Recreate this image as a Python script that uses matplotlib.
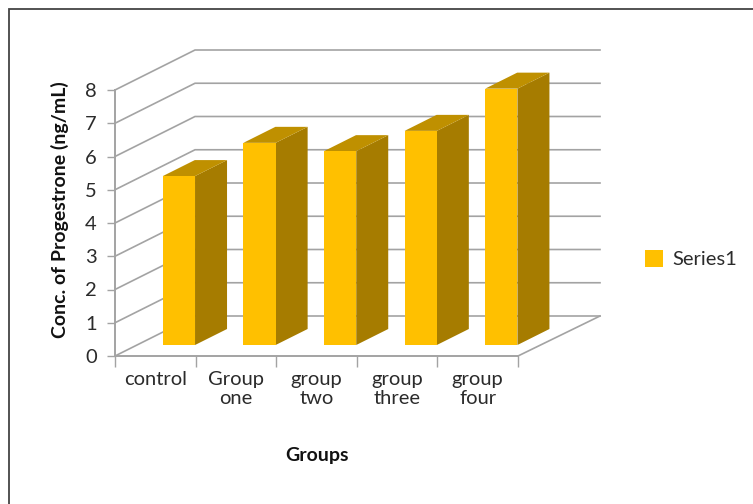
import matplotlib
matplotlib.use('Agg')
import matplotlib.pyplot as plt
from matplotlib.lines import Line2D
from matplotlib.patches import Patch, Polygon

plt.rcParams['font.family'] = ['Lato', 'DejaVu Sans']

groups = ['control', 'Group\none', 'group\ntwo', 'group\nthree', 'group\nfour']
progesterone = [5.08, 6.08, 5.83, 6.44, 7.71]
y_ticks = [0, 1, 2, 3, 4, 5, 6, 7, 8]

W, H = 753, 504
GRID = '#a3a3a3'
TEXT = '#2b2b2b'
FRONT = '#ffc000'
SIDE = '#a67c00'
TOP = '#bf9000'

# fake 3d: going back by d moves a point right and up, in data units
depth_x = 80 / 80.6
depth_y = 40 / 33.25
bar_w = 0.4
bar_off = 0.32
bar_front = 0.275
bar_depth = 0.4


def proj(x, y, d):
    return (x + d * depth_x, y + d * depth_y)


fig = plt.figure(figsize=(W / 100, H / 100), dpi=100)
ax = fig.add_axes([115 / W, 1 - 356 / H, 403 / W, 266 / H])
ax.set_xlim(0, 5)
ax.set_ylim(0, 8)
ax.patch.set_alpha(0)

# walls and floor
for v in y_ticks:
    x0, y0 = proj(0, v, 0)
    x1, y1 = proj(0, v, 1)
    ax.plot([x0, x1, 5 + 82 / 80.6 - 0.0], [y0, y1, y1], color=GRID, lw=1.2,
            clip_on=False, zorder=1, solid_joinstyle='miter')
ax.plot([5, 5 + depth_x + 2 / 80.6], [0, depth_y], color=GRID, lw=1.2, clip_on=False, zorder=1)

# bars, left to right so the nearer faces sit on top
for i, v in enumerate(progesterone):
    xl = i + bar_off
    xr = xl + bar_w
    d0 = bar_front
    d1 = bar_front + bar_depth
    y0 = proj(0, 0, d0)[1]
    y_top = y0 + v
    face = [(xl + d0 * depth_x, y0), (xr + d0 * depth_x, y0),
            (xr + d0 * depth_x, y_top), (xl + d0 * depth_x, y_top)]
    side = [proj(xr, 0, d0), proj(xr, 0, d1), proj(xr, v, d1), proj(xr, v, d0)]
    top = [proj(xl, v, d0), proj(xr, v, d0), proj(xr, v, d1), proj(xl, v, d1)]
    ax.add_patch(Polygon(side, closed=True, fc=SIDE, ec='none', clip_on=False, zorder=3))
    ax.add_patch(Polygon(top, closed=True, fc=TOP, ec='none', clip_on=False, zorder=3))
    ax.add_patch(Polygon(face, closed=True, fc=FRONT, ec='none', clip_on=False, zorder=4))

for s in ['top', 'right']:
    ax.spines[s].set_visible(False)
for s in ['left', 'bottom']:
    ax.spines[s].set_color(GRID)
    ax.spines[s].set_linewidth(1.4)

ax.set_yticks(y_ticks)
ax.set_xticks(range(6))
ax.set_xticklabels([])
ax.set_xticks([i + 0.5 for i in range(5)], groups, minor=True)
ax.tick_params(axis='y', length=6, width=1, color=GRID, labelsize=14.5, labelcolor=TEXT, pad=7)
ax.tick_params(axis='x', which='major', length=8, width=1, color=GRID)
ax.tick_params(axis='x', which='minor', length=0, labelsize=14.5, labelcolor=TEXT, pad=11)
for t in ax.get_xticklabels(minor=True):
    t.set_linespacing(1.1)

fig.text(60 / W, 1 - 210 / H, 'Conc. of Progestrone (ng/mL)', rotation=90, ha='center', va='center',
         fontsize=14, fontweight='bold', color='#111111')
fig.text(317 / W, 1 - 456 / H, 'Groups', ha='center', va='center',
         fontsize=14, fontweight='bold', color='#111111')

leg = fig.legend(handles=[Patch(fc=FRONT, ec='none', label='Series1')],
                 loc='center left', bbox_to_anchor=(645 / W, 1 - 259 / H), frameon=False,
                 fontsize=14.5, handlelength=0.9, handleheight=0.9, handletextpad=0.45,
                 borderpad=0, borderaxespad=0, labelcolor=TEXT)

# frame around the chart, open at the right and bottom
fig.add_artist(Line2D([9 / W, 9 / W, 1], [0, 1 - 9 / H, 1 - 9 / H],
                      color='#444444', lw=1.3, solid_joinstyle='miter'))

fig.savefig('out.png', dpi=100)
